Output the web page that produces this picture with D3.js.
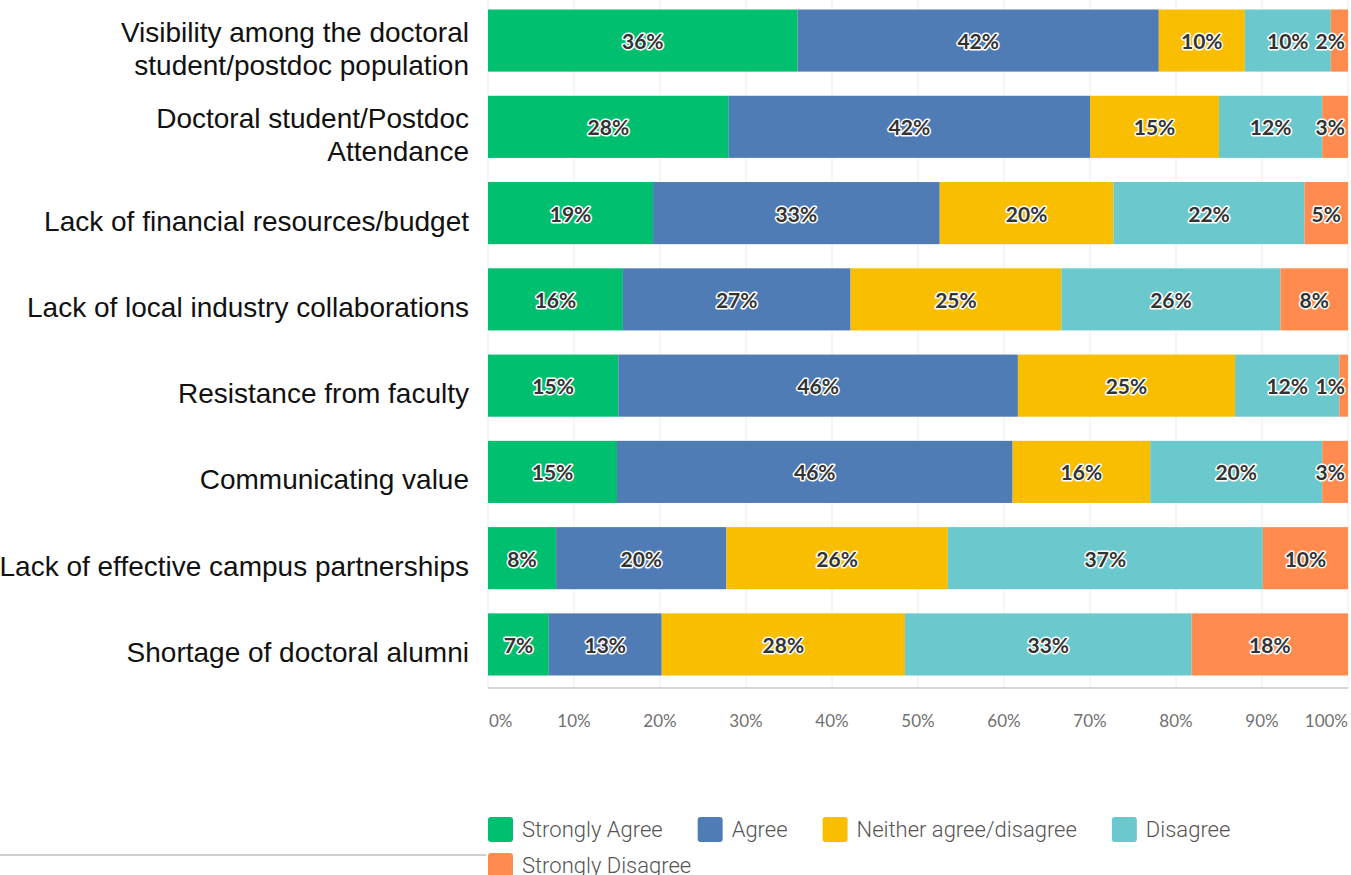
<!DOCTYPE html>
<html>
<head>
<meta charset="utf-8">
<script src="https://cdn.jsdelivr.net/npm/d3@7/dist/d3.min.js"></script>
<style>
  html, body { margin: 0; padding: 0; background: #fff; }
  svg { display: block; }
</style>
</head>
<body>
<svg id="chart" width="1351" height="875"></svg>
<script>
// Survey items (top to bottom); "\n" marks a manual line break
const categories = [
  "Visibility among the doctoral\nstudent/postdoc population",
  "Doctoral student/Postdoc\nAttendance",
  "Lack of financial resources/budget",
  "Lack of local industry collaborations",
  "Resistance from faculty",
  "Communicating value",
  "Lack of effective campus partnerships",
  "Shortage of doctoral alumni"
];

// Response options
const responses = ["Strongly Agree", "Agree", "Neither agree/disagree", "Disagree", "Strongly Disagree"];

// Percent of respondents per response, one array per response, in category order
const stronglyAgree    = [36, 28, 19, 16, 15, 15,  8,  7];
const agree            = [42, 42, 33, 27, 46, 46, 20, 13];
const neither          = [10, 15, 20, 25, 25, 16, 26, 28];
const disagree         = [10, 12, 22, 26, 12, 20, 37, 33];
const stronglyDisagree = [ 2,  3,  5,  8,  1,  3, 10, 18];

const xTicks = [0, 0.1, 0.2, 0.3, 0.4, 0.5, 0.6, 0.7, 0.8, 0.9, 1];

const colors = ["#00bf6f", "#507cb6", "#f9be00", "#6bc8cd", "#ff8b4f"];

const seriesValues = [stronglyAgree, agree, neither, disagree, stronglyDisagree];
const rows = categories.map((c, i) => {
  const r = { category: c };
  responses.forEach((k, j) => { r[k] = seriesValues[j][i]; });
  return r;
});

const svg = d3.select("#chart");

const x = d3.scaleLinear().domain([0, 1]).range([488, 1348]);
const y = d3.scaleBand().domain(categories).range([9.5, 675.5]).paddingInner(0.28).paddingOuter(0);
const color = d3.scaleOrdinal().domain(responses).range(colors);

// 100% stacked layout
const stacked = d3.stack().keys(responses).offset(d3.stackOffsetExpand)(rows);

// Vertical gridlines
svg.append("g")
  .selectAll("line")
  .data(xTicks)
  .join("line")
  .attr("x1", d => x(d)).attr("x2", d => x(d))
  .attr("y1", 0).attr("y2", 688)
  .attr("stroke", "#ececec")
  .attr("stroke-width", 1);

// Bottom axis line
svg.append("line")
  .attr("x1", x(0)).attr("x2", x(1))
  .attr("y1", 688).attr("y2", 688)
  .attr("stroke", "#d6d6d6").attr("stroke-width", 2);

// Tick labels (end labels kept inside the plot width)
svg.append("g")
  .selectAll("text")
  .data(xTicks)
  .join("text")
  .attr("x", (d, i) => i === 0 ? x(d) + 1 : x(d))
  .attr("y", 720)
  .attr("text-anchor", (d, i) => i === 0 ? "start" : i === xTicks.length - 1 ? "end" : "middle")
  .attr("dominant-baseline", "central")
  .attr("font-family", "Lato, sans-serif")
  .attr("font-size", 17)
  .attr("fill", "#707070")
  .text(d3.format(".0%"));

// Bars
const layers = svg.append("g")
  .selectAll("g")
  .data(stacked)
  .join("g")
  .attr("fill", d => color(d.key));

layers.selectAll("rect")
  .data(d => d)
  .join("rect")
  .attr("x", d => x(d[0]))
  .attr("width", d => x(d[1]) - x(d[0]))
  .attr("y", d => y(d.data.category))
  .attr("height", y.bandwidth());

// Value labels with white halo
const labelG = svg.append("g");
stacked.forEach(layer => {
  layer.forEach(d => {
    const v = d.data[layer.key];
    const t = labelG.append("text")
      .attr("x", (x(d[0]) + x(d[1])) / 2)
      .attr("y", y(d.data.category) + y.bandwidth() / 2)
      .attr("text-anchor", "middle")
      .attr("dominant-baseline", "central")
      .attr("font-family", "Lato, sans-serif")
      .attr("font-weight", 700)
      .attr("font-size", 21)
      .attr("fill", "#333")
      .attr("stroke", "#fff")
      .attr("stroke-width", 3)
      .attr("stroke-linejoin", "round")
      .attr("paint-order", "stroke")
      .text(v + "%");
    const w = t.node().getComputedTextLength();
    const cx = +t.attr("x");
    const maxRight = x(1) - 3;
    if (cx + w / 2 > maxRight) t.attr("x", maxRight - w / 2);
  });
});

// Category labels
const catG = svg.append("g");
categories.forEach(c => {
  const lines = c.split("\n");
  const cy = y(c) + y.bandwidth() / 2 + 8;
  const t = catG.append("text")
    .attr("text-anchor", "end")
    .attr("font-family", "'Liberation Sans', Arial, sans-serif")
    .attr("font-size", 28)
    .attr("fill", "#111");
  lines.forEach((ln, i) => {
    t.append("tspan")
      .attr("x", 469)
      .attr("y", cy + (i - (lines.length - 1) / 2) * 33)
      .attr("dominant-baseline", "central")
      .text(ln);
  });
});

// Thin separator at bottom left
svg.append("line")
  .attr("x1", 0).attr("x2", 486)
  .attr("y1", 855).attr("y2", 855)
  .attr("stroke", "#cfcfcf").attr("stroke-width", 2);

// Legend (flowing, wraps at the right edge)
const legend = svg.append("g");
let lx = 488, ly = 817;
const sw = 25, gap = 9, rowH = 36, right = 1348;
responses.forEach(r => {
  const item = legend.append("g");
  item.append("rect")
    .attr("width", sw).attr("height", sw)
    .attr("rx", 3).attr("ry", 3)
    .attr("fill", color(r));
  const t = item.append("text")
    .attr("x", sw + gap)
    .attr("y", sw / 2)
    .attr("dominant-baseline", "central")
    .attr("font-family", "Roboto, sans-serif")
    .attr("font-weight", 300)
    .attr("font-size", 22)
    .attr("fill", "#555")
    .text(r);
  const w = sw + gap + t.node().getComputedTextLength();
  if (lx + w > right) { lx = 488; ly += rowH; }
  item.attr("transform", `translate(${lx},${ly})`);
  lx += w + 35;
});
</script>
</body>
</html>
